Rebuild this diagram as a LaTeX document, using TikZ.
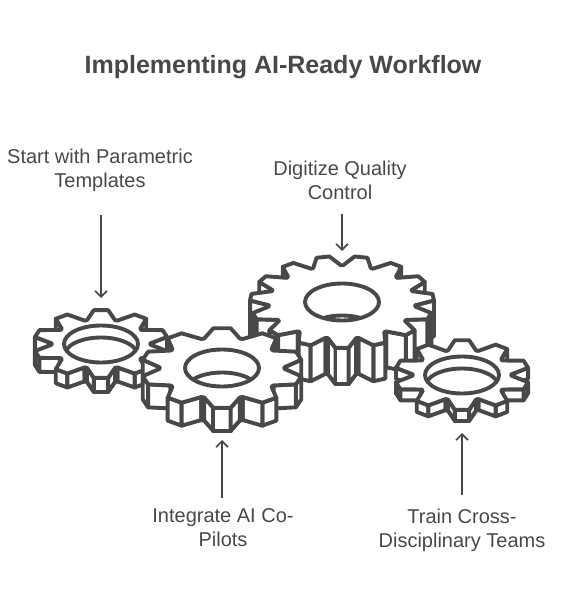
\documentclass[tikz,border=0pt]{standalone}
\usepackage{fontspec}
\setmainfont{Liberation Sans}
\usetikzlibrary{arrows.meta}
\definecolor{ink}{HTML}{484848}
\tikzset{
  lab/.style={align=center,text=ink,inner sep=0pt,font=\fontsize{20}{24}\selectfont},
  titlelab/.style={text=ink,inner sep=0pt,font=\bfseries\fontsize{25}{30}\selectfont},
  gearline/.style={draw=ink,line width=3.9pt,line join=round},
  ar/.style={-{Straight Barb[length=6pt,width=12pt]},line width=1.6pt,draw=ink},
}
% name, cx, cy, rx, ry, teeth, thickness, root radius, hole wall
\newcommand{\gear}[9]{
  \coordinate (#1) at (#2,#3);
  \begin{scope}[shift={(#2,#3)}]
    \pgfmathsetmacro\p{360/#6}
    \pgfmathsetmacro\rin{#8}
    \pgfmathtruncatemacro\kmax{floor(#6/2)}
    \pgfmathtruncatemacro\klast{#6-1}
    \foreach \k in {\kmax,...,0}
      \foreach \s in {1,-1}
        \foreach \fa/\ra/\fb/\rb in {0.46/\rin/0.54/\rin, 0.17/1/0.46/\rin, -0.17/1/0.17/1, -0.46/\rin/-0.17/1} {
          \pgfmathsetmacro\ta{90-\s*(\k+\fa)*\p}
          \pgfmathsetmacro\tb{90-\s*(\k+\fb)*\p}
          \pgfmathsetmacro\dx{\s*(\rb*cos(\tb)-\ra*cos(\ta))}
          \ifdim\dx pt>0pt
            \draw[gearline,fill=white]
              ({#4*\ra*cos(\ta)},{#5*\ra*sin(\ta)}) -- ({#4*\rb*cos(\tb)},{#5*\rb*sin(\tb)})
              -- ({#4*\rb*cos(\tb)},{#5*\rb*sin(\tb)+#7}) -- ({#4*\ra*cos(\ta)},{#5*\ra*sin(\ta)+#7}) -- cycle;
          \fi
        }
    \draw[gearline,fill=white] ({#4*\rin*cos(90-0.46*\p)},{#5*\rin*sin(90-0.46*\p)})
      \foreach \k [evaluate=\k as \a using 90+\k*\p] in {0,...,\klast} {
        -- ({#4*\rin*cos(\a-0.46*\p)},{#5*\rin*sin(\a-0.46*\p)})
        -- ({#4*cos(\a-0.17*\p)},{#5*sin(\a-0.17*\p)})
        -- ({#4*cos(\a+0.17*\p)},{#5*sin(\a+0.17*\p)})
        -- ({#4*\rin*cos(\a+0.46*\p)},{#5*\rin*sin(\a+0.46*\p)})
      } -- cycle;
    \draw[gearline,fill=white] (0,0) ellipse [x radius=37pt,y radius=18.5pt];
    \begin{scope}
      \clip (0,0) ellipse [x radius=37pt,y radius=18.5pt];
      \draw[gearline] (0,#9) ellipse [x radius=37pt,y radius=18.5pt];
    \end{scope}
  \end{scope}
}

\begin{document}
\begin{tikzpicture}[x=1pt,y=-1pt]
  \useasboundingbox (0,0) rectangle (582,601);

  \gear{gearB}{342}{302}{92}{46}{15}{36}{0.80}{32}
  \gear{gearA}{101}{344}{67.5}{34}{10}{14}{0.73}{12}
  \gear{gearC}{222}{368}{81}{40}{10}{23}{0.77}{23}
  \gear{gearD}{462}{375}{67.5}{35}{10}{11}{0.73}{12}

  \node[titlelab] (title) at (283,67) {Implementing AI-Ready Workflow};
  \node[lab] (labA) at (100,170) {Start with Parametric\\Templates};
  \node[lab] (labB) at (340,180) {Digitize Quality\\Control};
  \node[lab] (labC) at (223,528) {Integrate AI Co-\\Pilots};
  \node[lab] (labD) at (462,530) {Train Cross-\\Disciplinary Teams};

  \coordinate (tipA) at (101,298);
  \coordinate (tipB) at (342,251);
  \coordinate (tipC) at (222,440);
  \coordinate (tipD) at (462,433);

  \draw[ar,shorten <=23pt] (labA.south -| tipA) -- (tipA);
  \draw[ar,shorten <=14pt] (labB.south -| tipB) -- (tipB);
  \draw[ar,shorten <=11pt] (labC.north -| tipC) -- (tipC);
  \draw[ar,shorten <=13pt] (labD.north -| tipD) -- (tipD);
\end{tikzpicture}
\end{document}
